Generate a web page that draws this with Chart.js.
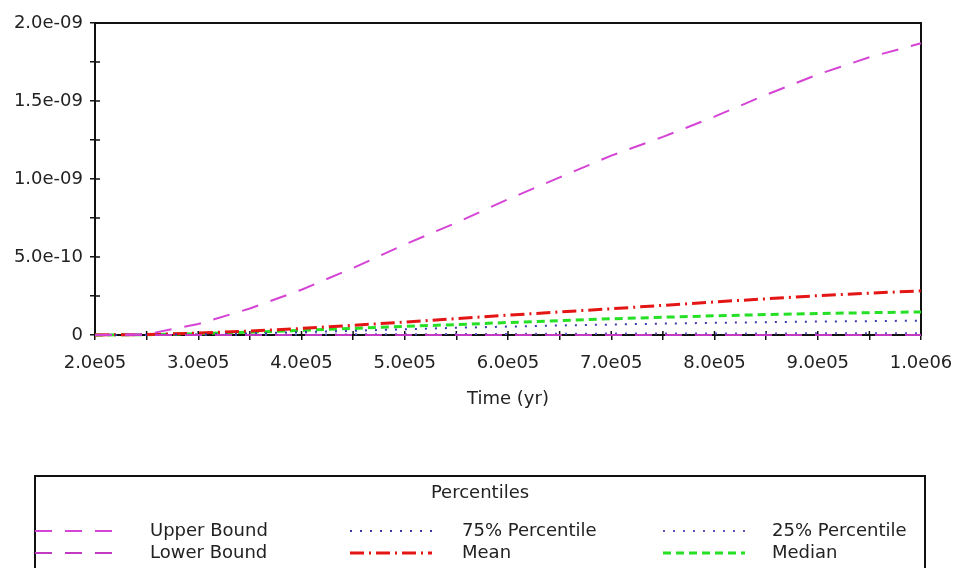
<!DOCTYPE html>
<html>
<head>
<meta charset="utf-8">
<script src="https://cdn.jsdelivr.net/npm/chart.js@4.4.1/dist/chart.umd.min.js"></script>
<style>
  body { margin: 0; background: #fff; }
  #wrap { width: 956px; height: 568px; }
</style>
</head>
<body>
<div id="wrap"><canvas id="chart"></canvas></div>
<script>
// time axis (yr)
const timeYr = [2.0e5, 2.5e5, 3.0e5, 3.5e5, 4.0e5, 4.5e5, 5.0e5, 5.5e5, 6.0e5,
  6.5e5, 7.0e5, 7.5e5, 8.0e5, 8.5e5, 9.0e5, 9.5e5, 1.0e6];

// series values
const upperBound = [0, 0.005e-9, 0.07e-9, 0.17e-9, 0.29e-9, 0.43e-9, 0.58e-9, 0.72e-9, 0.87e-9,
  1.01e-9, 1.15e-9, 1.27e-9, 1.40e-9, 1.54e-9, 1.67e-9, 1.78e-9, 1.87e-9];
const lowerBound = [0, 0, 0, 0, 0, 0, 0, 0, 0, 0, 0, 0, 0, 0, 0, 0, 0];
const p75 = [0, 0.001e-9, 0.004e-9, 0.010e-9, 0.018e-9, 0.027e-9, 0.037e-9, 0.046e-9, 0.054e-9,
  0.061e-9, 0.067e-9, 0.073e-9, 0.078e-9, 0.082e-9, 0.086e-9, 0.089e-9, 0.092e-9];
const mean = [0, 0.003e-9, 0.012e-9, 0.025e-9, 0.042e-9, 0.062e-9, 0.083e-9, 0.105e-9, 0.127e-9,
  0.148e-9, 0.168e-9, 0.190e-9, 0.212e-9, 0.232e-9, 0.252e-9, 0.268e-9, 0.283e-9];
const p25 = [0, 0, 0.001e-9, 0.002e-9, 0.003e-9, 0.004e-9, 0.005e-9, 0.006e-9, 0.007e-9,
  0.008e-9, 0.009e-9, 0.009e-9, 0.010e-9, 0.010e-9, 0.011e-9, 0.011e-9, 0.012e-9];
const median = [0, 0.002e-9, 0.008e-9, 0.018e-9, 0.030e-9, 0.042e-9, 0.055e-9, 0.067e-9, 0.080e-9,
  0.092e-9, 0.104e-9, 0.114e-9, 0.123e-9, 0.131e-9, 0.138e-9, 0.143e-9, 0.148e-9];

const seriesLabels = ['Upper Bound', 'Lower Bound', '75% Percentile', 'Mean', '25% Percentile', 'Median'];
const legendTitle = 'Percentiles';
const xTitle = 'Time (yr)';

Chart.defaults.font.family = '"DejaVu Sans", Verdana, sans-serif';
Chart.defaults.font.size = 18;
Chart.defaults.color = '#222';

// 2.0e05, 1.0e06, 5.0e-10 style labels
function sciLabel(v) {
  if (Math.abs(v) < 1e-20) return '0';
  let exp = Math.floor(Math.log10(Math.abs(v)) + 1e-9);
  let mant = v / Math.pow(10, exp);
  const e = Math.abs(exp).toString().padStart(2, '0');
  return mant.toFixed(1) + 'e' + (exp < 0 ? '-' : '') + e;
}

function isMultiple(v, step) {
  const r = v / step;
  return Math.abs(r - Math.round(r)) < 1e-6;
}

// frame round the plot and the inner half of the tick marks
const frame = {
  id: 'frame',
  beforeDatasetsDraw(chart) {
    const { ctx, chartArea: a, scales: { x, y } } = chart;
    ctx.save();
    ctx.strokeStyle = '#111';
    ctx.lineWidth = 2;
    ctx.strokeRect(a.left, a.top, a.right - a.left, a.bottom - a.top);
    ctx.lineWidth = 1.5;
    ctx.beginPath();
    x.ticks.forEach(t => {
      const px = x.getPixelForValue(t.value);
      ctx.moveTo(px, a.bottom);
      ctx.lineTo(px, a.bottom - 4);
    });
    y.ticks.forEach(t => {
      const py = y.getPixelForValue(t.value);
      ctx.moveTo(a.left, py);
      ctx.lineTo(a.left + 5, py);
    });
    ctx.stroke();
    ctx.restore();
  }
};

// boxed legend under the chart, 3 columns x 2 rows
const legendBox = {
  id: 'legendBox',
  afterDraw(chart) {
    const ctx = chart.ctx;
    const sampleX = [35, 350, 663];
    const textX = [150, 462, 772];
    const rowY = [531, 553];
    ctx.save();
    ctx.strokeStyle = '#111';
    ctx.lineWidth = 2;
    ctx.strokeRect(35, 476, 890, 120);
    ctx.font = '18px "DejaVu Sans"';
    ctx.fillStyle = '#222';
    ctx.textAlign = 'center';
    ctx.textBaseline = 'middle';
    ctx.fillText(legendTitle, 480, 493);
    chart.data.datasets.forEach((ds, i) => {
      const col = Math.floor(i / 2), row = i % 2;
      const y = rowY[row];
      ctx.setLineDash(ds.borderDash || []);
      ctx.strokeStyle = ds.borderColor;
      ctx.lineWidth = ds.borderWidth;
      ctx.beginPath();
      ctx.moveTo(sampleX[col], y);
      ctx.lineTo(sampleX[col] + 82, y);
      ctx.stroke();
      ctx.setLineDash([]);
      ctx.textAlign = 'left';
      ctx.fillText(ds.label, textX[col], y);
    });
    ctx.restore();
  }
};

function line(label, data, color, dash, width) {
  return {
    label, data: data.map((v, i) => ({ x: timeYr[i], y: v })),
    borderColor: color, backgroundColor: color, borderDash: dash, borderWidth: width,
    pointRadius: 0, tension: 0, fill: false, clip: false
  };
}

new Chart(document.getElementById('chart'), {
  type: 'line',
  data: {
    datasets: [
      line(seriesLabels[0], upperBound, '#d544d5', [17, 13], 2),
      line(seriesLabels[1], lowerBound, '#c23ac2', [17, 13], 2),
      line(seriesLabels[2], p75, '#3a3aa8', [2, 8], 2),
      line(seriesLabels[3], mean, '#e31515', [14, 5, 2, 5], 3),
      line(seriesLabels[4], p25, '#5a55c8', [2, 8], 2),
      line(seriesLabels[5], median, '#25e025', [8, 5], 3)
    ]
  },
  options: {
    responsive: true,
    maintainAspectRatio: false,
    animation: false,
    layout: { padding: { left: 0, top: 23, right: 35, bottom: 153 } },
    plugins: { legend: { display: false }, tooltip: { enabled: false } },
    scales: {
      x: {
        type: 'linear',
        min: 2e5,
        max: 1e6,
        afterFit: s => { s.height = 80; s.paddingLeft = 0; s.paddingRight = 0; },
        border: { display: false },
        grid: { drawOnChartArea: false, drawTicks: true, tickLength: 5, color: '#111', lineWidth: 1.5 },
        ticks: {
          stepSize: 5e4,
          autoSkip: false,
          maxRotation: 0,
          padding: 13,
          callback: v => isMultiple(v, 1e5) ? sciLabel(v) : ''
        },
        title: { display: true, text: xTitle, padding: { top: 0, bottom: 5 } }
      },
      y: {
        min: 0,
        max: 2e-9,
        afterFit: s => { s.width = 95; s.paddingTop = 0; s.paddingBottom = 0; },
        border: { display: false },
        grid: { drawOnChartArea: false, drawTicks: true, tickLength: 5, color: '#111', lineWidth: 1.5 },
        ticks: {
          stepSize: 2.5e-10,
          autoSkip: false,
          padding: 7,
          callback: v => isMultiple(v, 5e-10) ? sciLabel(v) : ''
        }
      }
    }
  },
  plugins: [frame, legendBox]
});
</script>
</body>
</html>
